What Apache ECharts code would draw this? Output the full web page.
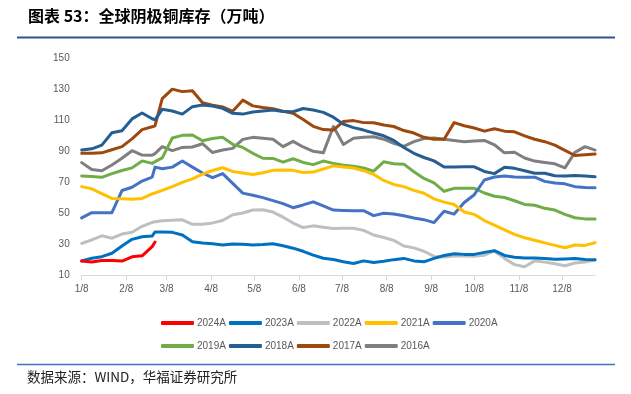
<!DOCTYPE html>
<html><head><meta charset="utf-8">
<script src="https://cdn.jsdelivr.net/npm/echarts@6/dist/echarts.min.js"></script>
<style>html,body{margin:0;padding:0;background:#fff}#c{width:631px;height:394px}</style>
</head><body><div id="c"></div>
<script>
// x positions: days after Jan 8 (weekly data, one irregular report at day 51)
const days = [0,7,14,21,28,35,42,49,51,56,63,70,77,84,91,98,105,112,119,126,133,140,147,154,161,168,175,182,189,196,203,210,217,224,231,238,245,252,259,266,273,280,287,294,301,308,315,322,329,336,343,350,357];
const monthTicks = [0,31,59,90,120,151,181,212,243,273,304,334];
const monthLabels = ['1/8','2/8','3/8','4/8','5/8','6/8','7/8','8/8','9/8','10/8','11/8','12/8'];

const s2024 = [19.2,18.6,19.5,19.6,19.2,21.9,22.6,28.5,31.5];
const s2023 = [19.2,21,22,24.2,28.9,33.2,34.9,35.3,38,
  38,37.7,36,31.7,30.8,30.3,29.6,30.2,30,29.6,
  29.8,30.3,29.1,27.5,25.5,23,21,20.2,18.8,17.6,
  19.3,18.2,19,20.1,20.9,19.3,18.7,20.9,22.8,23.9,
  23.5,23.5,24.8,25.9,22.8,21.6,21.2,21.1,20.8,20.3,
  20.5,20.8,20.2,20.1];
const s2022 = [30.6,32.8,35.5,33.9,36.6,37.8,41.6,44.1,44.6,
  45.2,45.5,45.8,42.9,43,43.8,45.4,49.1,50.2,52.1,
  52.3,50.8,47.5,43.7,40.8,41.9,41,40.2,40.4,40.3,
  39,36,34.4,32.5,28.9,27.7,25.5,22.2,21.8,22.4,
  22.4,22.3,23,25.7,20.9,16.9,15.5,19.3,18.5,17.5,
  16.2,17.9,18.6,19.9];
const s2021 = [67.2,65.8,62.7,59.6,59.4,59.1,59.6,62.6,63.1,
  64.8,67.2,69.9,72.2,75.3,77.6,79.4,77,76,75,
  76.2,77.7,78,77.7,76.3,76.6,78.6,80.6,79.9,79.2,
  77.5,75.1,71.2,68.6,67.2,64.8,62.9,59.3,57.2,55.7,
  50.8,49.3,45.3,42.3,39.3,36.4,34.2,32.6,30.9,29.3,
  27.8,29.5,29.3,31];
const s2020 = [47,50.4,50.4,50.4,64.7,66.8,70.8,73.3,79.8,
  78.7,79.8,83.8,79.8,76,73,75.6,69.3,63,61.6,
  60.1,58.2,56.2,53.6,55.4,57.4,54.8,52.1,51.8,51.6,
  51.7,48.5,50,49.6,48.4,47,45.9,44,51.3,49.5,
  57,62,71.5,73.4,74,73.4,73.3,73.3,70.6,69.5,
  69,67.2,66.6,66.5];
const s2019 = [74.1,73.7,73.2,75.6,77.6,79.3,83.8,82.2,83.3,
  85.8,98.6,100.3,100.5,96.8,98.3,99,94.5,92.5,88.7,
  85.5,85.4,83,85.2,82.8,81.4,83.7,82.2,81,80.3,
  79.2,77.2,83.2,82,81.7,76.8,72.5,69.6,64.2,66.1,
  66.1,66.1,63.1,61,60.2,58.1,55.7,55.2,53.2,52.1,
  49.3,47.1,46.4,46.4];
const s2018 = [90.8,91.6,94,102,103.3,110.9,114.7,111,110.3,
  117.1,116,114,118.8,119.9,119.2,117.7,114.5,114,115.4,
  116,116.6,115.6,115.5,117.6,116.6,115.1,112,107.5,105.3,
  103.7,101.8,100,97,92.5,88.7,86,83.8,79.9,79.9,
  80,80,77,75.6,79.7,79,77.5,75.8,75.8,74.2,
  74,74.4,74,73.6];
const s2017 = [88.8,88.8,89,91,93,98,104,105.8,106.5,
  124,130.1,128.5,129.1,121.3,119.7,118.6,115.8,123,119.3,
  118.3,117.5,115.8,114.5,110.5,106.1,104,103.7,109.3,109.8,
  108.5,108.4,107,106,103.4,101.8,99,97.8,97.8,108.5,
  106.5,105,103,104.5,103,102.6,100,97.8,96.2,94,
  90.6,87.3,87.7,88.2];
const s2016 = [82.7,78.2,77.4,81.2,85.5,90.4,87.6,87.5,88.5,
  93,90.4,92.5,92.8,94.9,89.2,90.8,91.9,97.7,99,
  98.4,97.8,93,96.4,92.8,90,89,106,94.4,98.4,
  99,99.4,97.8,95.1,93.2,96.2,98.2,98.6,97.8,97,
  96.1,96.7,97,94.2,89,89.4,85.7,83.7,82.8,81.9,
  79.3,89.3,93,90.8];

const names = ['2024A','2023A','2022A','2021A','2020A','2019A','2018A','2017A','2016A'];
const values = [s2024,s2023,s2022,s2021,s2020,s2019,s2018,s2017,s2016];
const colors = ['#ff0000','#0070c0','#bfbfbf','#ffc000','#4472c4','#70ad47','#255e91','#9e480e','#7f7f7f'];

const series = [];
for (let k = names.length - 1; k >= 0; k--) {
  series.push({
    name: names[k], type: 'line', symbol: 'none', showSymbol: false, smooth: false,
    data: values[k].map((v, j) => [days[j], v]),
    lineStyle: { color: colors[k], width: 3, cap: 'round', join: 'round' },
    itemStyle: { color: colors[k] },
    z: 2 + (names.length - k)
  });
}

const legendText = { fontSize: 10, color: '#595959', fontFamily: 'Liberation Sans', padding: [0, 0, 0, -2] };
const legendBase = { left: 156, itemWidth: 33, itemHeight: 4, itemGap: 3, icon: 'roundRect', textStyle: legendText, selectedMode: false };
const chart = echarts.init(document.getElementById('c'), null, { renderer: 'canvas' });
chart.setOption({
  animation: false,
  backgroundColor: '#fff',
  grid: { left: 81.7, right: 35.9, top: 58.3, bottom: 118.7, containLabel: false },
  xAxis: {
    type: 'value', min: 0, max: 357,
    axisLine: { show: true, lineStyle: { color: '#d9d9d9', width: 1 } },
    axisTick: { show: true, customValues: monthTicks, length: 5, lineStyle: { color: '#d9d9d9' } },
    axisLabel: { customValues: monthTicks, margin: 9, fontSize: 10, color: '#595959', fontFamily: 'Liberation Sans',
      formatter: v => monthLabels[monthTicks.indexOf(v)] || '' },
    splitLine: { show: false }
  },
  yAxis: {
    type: 'value', min: 10, max: 150, interval: 20,
    axisLine: { show: false }, axisTick: { show: false },
    axisLabel: { margin: 12, fontSize: 10, color: '#595959', fontFamily: 'Liberation Sans' },
    splitLine: { show: false }
  },
  legend: [
    Object.assign({ data: names.slice(0, 5), top: 313 }, legendBase),
    Object.assign({ data: names.slice(5), top: 336 }, legendBase)
  ],
  graphic: [
    { type: 'text', left: 28, top: 8, style: { text: '图表 53：全球阴极铜库存（万吨）', font: 'bold 16px "Noto Sans CJK SC"', fill: '#000' } },
    { type: 'line', shape: { x1: 17, y1: 37.5, x2: 615, y2: 37.5 }, style: { stroke: '#2f5597', lineWidth: 2 } },
    { type: 'line', shape: { x1: 17, y1: 364.5, x2: 615, y2: 364.5 }, style: { stroke: '#4472c4', lineWidth: 1.5 } },
    { type: 'text', left: 27, top: 370, style: { text: '数据来源：WIND，华福证券研究所', font: '13.5px "Noto Sans CJK SC"', fill: '#222' } }
  ],
  series: series
});
</script></body></html>
